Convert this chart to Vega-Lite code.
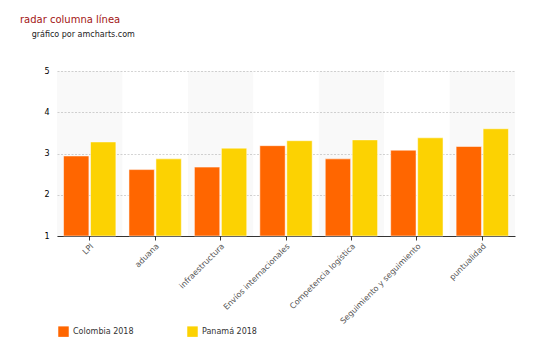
{
  "$schema": "https://vega.github.io/schema/vega-lite/v6.json",
  "autosize": "none",
  "width": 458,
  "height": 165,
  "padding": {"left": 57, "top": 71, "right": 23, "bottom": 115},
  "background": "white",
  "title": {
    "text": "radar   columna   línea",
    "subtitle": "\u2800\u2800gráfico por amcharts.com",
    "anchor": "start",
    "dx": -24,
    "offset": 28,
    "font": "DejaVu Sans",
    "fontSize": 10,
    "fontWeight": "normal",
    "color": "#a31515",
    "subtitleFont": "DejaVu Sans",
    "subtitleFontSize": 8,
    "subtitleColor": "#222222",
    "subtitlePadding": 6
  },
  "data": {
    "values": [
      {"categoria": "LPI", "serie": "Colombia 2018", "valor": 2.94},
      {"categoria": "LPI", "serie": "Panamá 2018", "valor": 3.28},
      {"categoria": "aduana", "serie": "Colombia 2018", "valor": 2.61},
      {"categoria": "aduana", "serie": "Panamá 2018", "valor": 2.87},
      {"categoria": "infraestructura", "serie": "Colombia 2018", "valor": 2.67},
      {"categoria": "infraestructura", "serie": "Panamá 2018", "valor": 3.13},
      {"categoria": "Envíos internacionales", "serie": "Colombia 2018", "valor": 3.19},
      {"categoria": "Envíos internacionales", "serie": "Panamá 2018", "valor": 3.31},
      {"categoria": "Competencia logística", "serie": "Colombia 2018", "valor": 2.87},
      {"categoria": "Competencia logística", "serie": "Panamá 2018", "valor": 3.33},
      {"categoria": "Seguimiento y seguimiento", "serie": "Colombia 2018", "valor": 3.08},
      {"categoria": "Seguimiento y seguimiento", "serie": "Panamá 2018", "valor": 3.38},
      {"categoria": "puntualidad", "serie": "Colombia 2018", "valor": 3.17},
      {"categoria": "puntualidad", "serie": "Panamá 2018", "valor": 3.6}
    ]
  },
  "config": {
    "font": "DejaVu Sans",
    "view": {"stroke": null}
  },
  "layer": [
    {
      "transform": [
        {"filter": {"field": "serie", "equal": "Colombia 2018"}},
        {"filter": {"field": "categoria", "oneOf": ["LPI", "infraestructura", "Competencia logística", "puntualidad"]}}
      ],
      "mark": {"type": "bar", "color": "#000000", "opacity": 0.025},
      "encoding": {
        "x": {
          "field": "categoria",
          "type": "nominal",
          "sort": null,
          "scale": {"domain": ["LPI", "aduana", "infraestructura", "Envíos internacionales", "Competencia logística", "Seguimiento y seguimiento", "puntualidad"], "paddingInner": 0, "paddingOuter": 0},
          "axis": null
        },
        "y": {
          "datum": 5,
          "type": "quantitative",
          "scale": {"domain": [1, 5], "zero": false},
          "axis": {
            "title": null,
            "values": [1, 2, 3, 4, 5],
            "grid": true,
            "domain": false,
            "ticks": false,
            "labelFontSize": 8,
            "labelColor": "#000000",
            "labelPadding": 8,
            "gridColor": "#d4d4d4",
            "gridOpacity": 1,
            "gridWidth": 1,
            "gridDash": [2, 1.5]
          }
        },
        "y2": {"datum": 1}
      }
    },
    {
      "mark": {"type": "bar", "stroke": "white", "strokeOpacity": 0.5, "strokeWidth": 1},
      "encoding": {
        "x": {
          "field": "categoria",
          "type": "nominal",
          "sort": null,
          "scale": {"domain": ["LPI", "aduana", "infraestructura", "Envíos internacionales", "Competencia logística", "Seguimiento y seguimiento", "puntualidad"], "paddingInner": 0.2, "paddingOuter": 0.1},
          "axis": {
            "title": null,
            "labelAngle": -45,
            "labelFontSize": 8,
            "labelColor": "#555555",
            "domainColor": "#333333",
            "domainWidth": 1,
            "tickColor": "#333333",
            "tickSize": 4,
            "labelPadding": 2
          }
        },
        "xOffset": {"field": "serie", "type": "nominal", "scale": {"paddingInner": 0.06}},
        "y": {
          "field": "valor",
          "type": "quantitative",
          "stack": null,
          "scale": {"domain": [1, 5], "zero": false},
          "axis": {
            "title": null,
            "values": [1, 2, 3, 4, 5],
            "grid": true,
            "domain": false,
            "ticks": false,
            "labelFontSize": 8,
            "labelColor": "#000000",
            "labelPadding": 8,
            "gridColor": "#d4d4d4",
            "gridOpacity": 1,
            "gridWidth": 1,
            "gridDash": [2, 1.5]
          }
        },
        "y2": {"datum": 1},
        "color": {
          "field": "serie",
          "type": "nominal",
          "scale": {"domain": ["Colombia 2018", "Panamá 2018"], "range": ["#FF6600", "#FCD202"]},
          "legend": {
            "title": null,
            "orient": "none",
            "direction": "horizontal",
            "legendX": 1,
            "legendY": 255,
            "symbolType": "square",
            "symbolSize": 110,
            "symbolStrokeWidth": 0,
            "symbolOpacity": 1,
            "labelFontSize": 8,
            "labelColor": "#333333",
            "columnPadding": 53,
            "labelOffset": 4
          }
        }
      }
    }
  ],
  "resolve": {"scale": {"x": "independent"}}
}
